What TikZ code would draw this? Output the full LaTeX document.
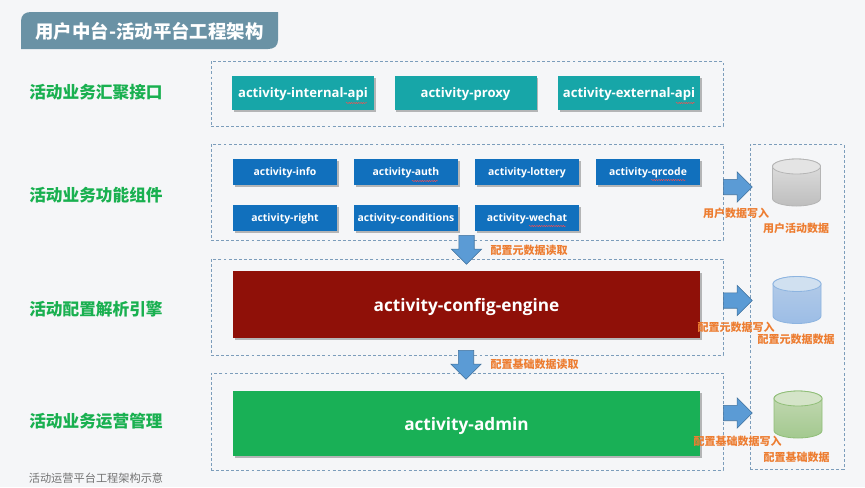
\documentclass[tikz,border=0pt]{standalone}
\usepackage{fontspec}
\setmainfont{Open Sans}
\newfontfamily\cjk{Noto Sans CJK SC}
\usepackage{xcolor}
\usetikzlibrary{calc,shapes.arrows,shadows,decorations.pathmorphing}
\definecolor{pagebg}{RGB}{245,246,248}
\definecolor{titlebar}{RGB}{106,146,165}
\definecolor{layergreen}{RGB}{25,176,80}
\definecolor{framecol}{RGB}{124,157,187}
\definecolor{tealbox}{RGB}{23,166,168}
\definecolor{bluebox}{RGB}{17,112,189}
\definecolor{enginered}{RGB}{143,16,8}
\definecolor{admingreen}{RGB}{25,176,86}
\definecolor{noteorange}{RGB}{237,125,49}
\definecolor{arrowblue}{RGB}{91,155,213}
\definecolor{arrowedge}{RGB}{65,113,156}
\definecolor{grayedge}{RGB}{181,181,181}
\definecolor{graycap}{RGB}{228,228,228}
\definecolor{grayhigh}{RGB}{224,224,224}
\definecolor{graylow}{RGB}{190,190,190}
\definecolor{blueedge}{RGB}{141,180,224}
\definecolor{bluecap}{RGB}{208,224,240}
\definecolor{bluehigh}{RGB}{181,204,232}
\definecolor{bluelow}{RGB}{156,189,230}
\definecolor{greenedge}{RGB}{144,190,120}
\definecolor{greencap}{RGB}{212,228,200}
\definecolor{greenhigh}{RGB}{197,217,181}
\definecolor{greenlow}{RGB}{163,201,143}

\begin{document}
\begin{tikzpicture}[
  x=.75pt,y=-.75pt,
  layer/.style={font=\cjk\bfseries\fontsize{12.5}{14}\selectfont,text=layergreen,inner sep=0pt},
  frame/.style={rectangle,draw=framecol,dashed,line width=.7pt,dash pattern=on 2.2pt off 1.6pt},
  boxshadow/.style={drop shadow={shadow xshift=1.2pt,shadow yshift=-1.2pt,fill=black!60,opacity=.45}},
  apibox/.style={rectangle,boxshadow,fill=tealbox,text=white,text depth=0pt,font=\bfseries\fontsize{9.8}{12}\selectfont,minimum width=106.5pt,minimum height=25.5pt,inner sep=0pt},
  compbox/.style={rectangle,boxshadow,fill=bluebox,text=white,text depth=0pt,font=\bfseries\fontsize{7.8}{9}\selectfont,minimum width=78pt,minimum height=19.5pt,inner sep=0pt},
  bigbox/.style={rectangle,boxshadow,text=white,text depth=0pt,font=\bfseries\fontsize{12.9}{16}\selectfont,minimum width=350.25pt,inner sep=0pt},
  rightarrow/.style={single arrow,anchor=tail,draw=arrowedge,fill=arrowblue,line width=.4pt,inner sep=5.6pt,minimum height=21.75pt,single arrow head extend=5.6pt},
  downarrow/.style={rightarrow,shape border rotate=270},
  note/.style={font=\cjk\bfseries\fontsize{8.25}{10}\selectfont,text=noteorange,inner sep=0pt},
  squiggle/.style={draw=red!70,line width=.3pt,decorate,decoration={snake,segment length=1.8pt,amplitude=.5pt}}
]
\useasboundingbox[fill=pagebg] (0,0) rectangle (865,487);
% title
\path[fill=titlebar] (21,49) -- (21,21) .. controls (21,15) and (25,12) .. (31,12) -- (278,12) -- (278,40) .. controls (278,46) and (274,49) .. (268,49) -- cycle;
\node[text=white,font=\cjk\bfseries\fontsize{13.8}{17}\selectfont,inner sep=0pt] (title) at (149.5,31) {用户中台-活动平台工程架构};
% layers
\node[layer] (apilabel) at (96,92) {活动业务汇聚接口};
\node[layer] (complabel) at (96,195) {活动业务功能组件};
\node[layer] (enginelabel) at (96,309) {活动配置解析引擎};
\node[layer] (adminlabel) at (96,421) {活动业务运营管理};
\node[frame,minimum width=384pt,minimum height=48.75pt] (apiframe) at (467,93.5) {};
\node[frame,minimum width=384pt,minimum height=72pt] (compframe) at (467,192) {};
\node[frame,minimum width=384pt,minimum height=72pt] (engineframe) at (467,307) {};
\node[frame,minimum width=384pt,minimum height=72.75pt] (adminframe) at (467,421.5) {};
\node[frame,minimum width=70.5pt,minimum height=243.75pt] (storeframe) at (797,306.5) {};
% boxes
\node[apibox] (internal) at (303,93) {activity-internal-api};
\node[apibox] (proxy) at (465.5,93) {activity-proxy};
\node[apibox] (external) at (629,93) {activity-external-api};
\node[compbox] (info) at (285,172) {activity-info};
\node[compbox] (auth) at (406,172) {activity-auth};
\node[compbox] (lottery) at (527,172) {activity-lottery};
\node[compbox] (qrcode) at (648,172) {activity-qrcode};
\node[compbox] (right) at (285,218) {activity-right};
\node[compbox] (conditions) at (406,218) {activity-conditions};
\node[compbox] (wechat) at (527,218) {activity-wechat};
\node[bigbox,fill=enginered,minimum height=50.25pt] (engine) at (466.5,304.5) {activity-config-engine};
\node[bigbox,fill=admingreen,minimum height=48.75pt] (admin) at (466.5,423.5) {activity-admin};
% spell check marks
\foreach \xa/\xb/\ya in {346/367/103,676/695/103,412/438/181,651/686/180,529/566/226}
  \draw[squiggle] (\xa,\ya) -- (\xb,\ya);
% stores
\foreach \db/\dbx/\dby/\dbcol in {userdb/796.5/182.5/gray,metadb/797/300/blue,basedb/798/414.5/green} {
  \coordinate (\db) at (\dbx,\dby);
  \draw[\dbcol edge,line width=.6pt,top color=\dbcol high,bottom color=\dbcol low] ($(\db)+(-24,-16)$) -- ($(\db)+(-24,16)$)
    arc[start angle=180,end angle=0,x radius=24,y radius=7.5] -- ($(\db)+(24,-16)$)
    arc[start angle=0,end angle=-180,x radius=24,y radius=7.5] -- cycle;
  \draw[\dbcol edge,line width=.6pt,fill=\dbcol cap] ($(\db)+(0,-16)$) ellipse (24 and 7.5);
}
% block arrows
\node[rightarrow] (userwrite) at (723,187) {};
\node[rightarrow] (metawrite) at (723,300.5) {};
\node[rightarrow] (basewrite) at (723,413) {};
\node[downarrow] (metaread) at (466.5,235) {};
\node[downarrow] (baseread) at (466,350) {};
% notes
\node[note] (userwritenote) at (736,213) {用户数据写入};
\node[note] (userdbnote) at (796,228) {用户活动数据};
\node[note] (metareadnote) at (529,250) {配置元数据读取};
\node[note] (metawritenote) at (736,327) {配置元数据写入};
\node[note] (metadbnote) at (796,339) {配置元数据数据};
\node[note] (basereadnote) at (534.5,364) {配置基础数据读取};
\node[note] (basewritenote) at (737.5,441) {配置基础数据写入};
\node[note] (basedbnote) at (796.5,457) {配置基础数据};
\node[text=black!55,font=\cjk\fontsize{8.4}{10}\selectfont,inner sep=0pt] (caption) at (96,478) {活动运营平台工程架构示意};
\end{tikzpicture}
\end{document}
